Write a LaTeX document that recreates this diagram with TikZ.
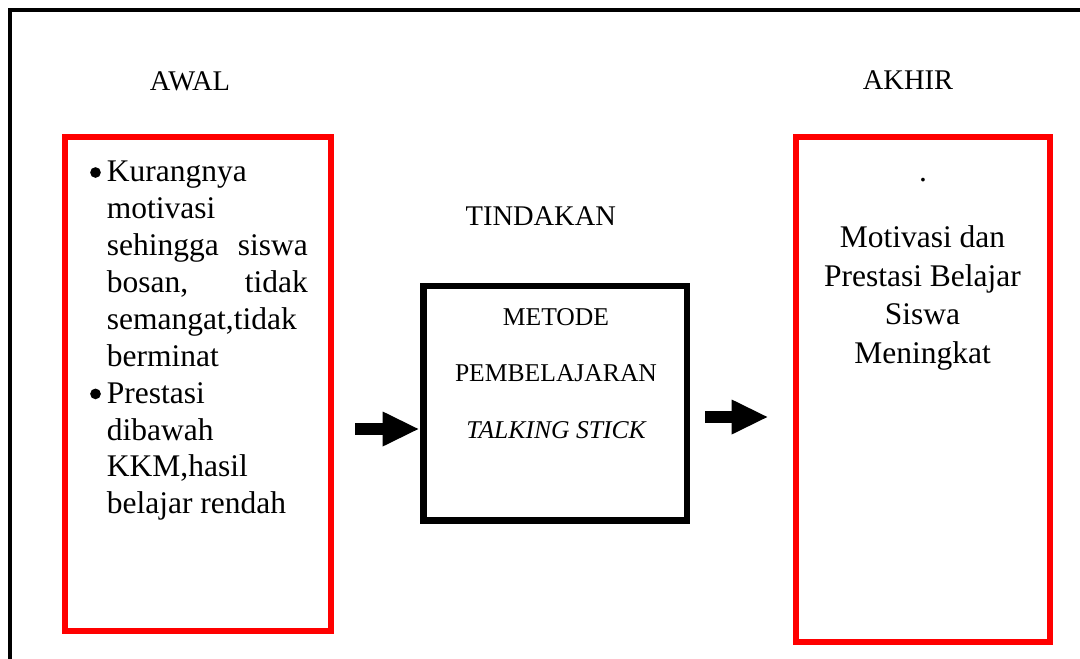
\documentclass[tikz,border=0pt]{standalone}
\usepackage{fontspec}
\setmainfont{Liberation Serif}
\usetikzlibrary{arrows.meta}
\begin{document}
\begin{tikzpicture}[x=1pt,y=-1pt,
  redbox/.style={draw=red, line width=6pt, rectangle, inner sep=0pt},
  blackbox/.style={draw=black, line width=6.5pt, rectangle, inner sep=0pt},
  head/.style={anchor=base, inner sep=0pt, font=\fontsize{28.5}{34}\selectfont},
  ltxt/.style={anchor=base west, inner sep=0pt, font=\fontsize{31.5}{36}\selectfont},
  rtxt/.style={anchor=base, inner sep=0pt, font=\fontsize{31.5}{36}\selectfont},
  mtxt/.style={anchor=base, inner sep=0pt, font=\fontsize{25.6}{30}\selectfont},
  bulletdot/.style={circle, fill=black, inner sep=0pt, minimum size=10.7pt},
  bigarrow/.style={line width=12.3pt, -{Triangle[length=35.6pt,width=35pt,line width=0pt]}}
]
\useasboundingbox (0,0) rectangle (1080,659);
% outer frame (only left and top edges visible)
\coordinate (fbl) at (9.5,659);
\coordinate (ftl) at (9.5,10.3);
\coordinate (ftr) at (1080,10.3);
\draw[line width=4pt] (fbl) -- (ftl) -- (ftr);

% boxes
\node[redbox, minimum width=266pt, minimum height=494.5pt] (lbox) at (198,383.75) {};
\node[blackbox, minimum width=263.7pt, minimum height=234.3pt] (mbox) at (555.2,403.2) {};
\node[redbox, minimum width=254pt, minimum height=505pt] (rbox) at (922.5,389) {};

% headings
\node[head] (hawal) at (190,90) {AWAL};
\node[head] (htind) at (540.8,225.7) {TINDAKAN};
\node[head] (hakhir) at (908,89.5) {AKHIR};

% left box text
\node[bulletdot] (b1) at (95.5,172.5) {};
\node[bulletdot] (b2) at (95.5,393.9) {};
\node[ltxt] (l1) at (106.7,181.7) {Kurangnya};
\node[ltxt] (l2) at (106.7,218.6) {motivasi};
\node[ltxt] (l3) at (106.7,255.5) {\makebox[201pt][s]{sehingga siswa}};
\node[ltxt] (l4) at (106.7,292.4) {\makebox[201pt][s]{bosan, tidak}};
\node[ltxt] (l5) at (106.7,329.3) {semangat,tidak};
\node[ltxt] (l6) at (106.7,366.2) {berminat};
\node[ltxt] (l7) at (106.7,403.1) {Prestasi};
\node[ltxt] (l8) at (106.7,440.0) {dibawah};
\node[ltxt] (l9) at (106.7,476.9) {KKM,hasil};
\node[ltxt] (l10) at (106.7,513.8) {belajar rendah};

% middle box text
\node[mtxt] (m1) at (556,325) {METODE};
\node[mtxt] (m2) at (556,381.7) {PEMBELAJARAN};
\node[mtxt] (m3) at (556,438) {\itshape TALKING STICK};

% right box text
\node[rtxt] (r0) at (923,181.7) {.};
\node[rtxt] (r1) at (922.5,247.3) {Motivasi dan};
\node[rtxt] (r2) at (922.5,286) {Prestasi Belajar};
\node[rtxt] (r3) at (922.5,324.7) {Siswa};
\node[rtxt] (r4) at (922.5,363.4) {Meningkat};

% arrows
\coordinate (a1s) at (355,429);
\coordinate (a1e) at (418.3,429);
\coordinate (a2s) at (705,417);
\coordinate (a2e) at (767.3,417);
\draw[bigarrow] (a1s) -- (a1e);
\draw[bigarrow] (a2s) -- (a2e);
\end{tikzpicture}
\end{document}
